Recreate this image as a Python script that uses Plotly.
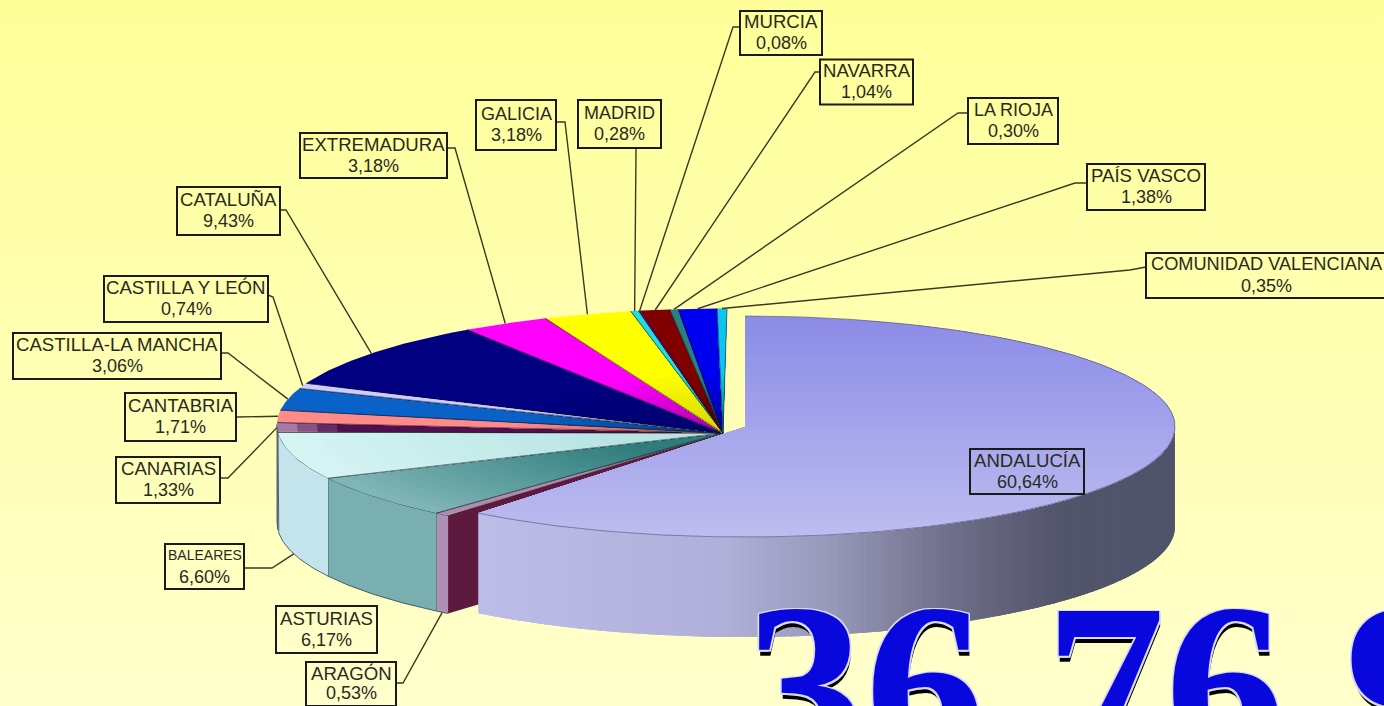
import numpy as np
import plotly.graph_objects as go

# ---------- data ----------
regions = ["ANDALUCÍA", "ARAGÓN", "ASTURIAS", "BALEARES", "CANARIAS", "CANTABRIA",
           "CASTILLA-LA MANCHA", "CASTILLA Y LEÓN", "CATALUÑA", "EXTREMADURA", "GALICIA",
           "MADRID", "MURCIA", "NAVARRA", "LA RIOJA", "PAÍS VASCO", "COMUNIDAD VALENCIANA"]
shares = [60.64, 0.53, 6.17, 6.60, 1.33, 1.71, 3.06, 0.74, 9.43, 3.18, 3.18,
          0.28, 0.08, 1.04, 0.30, 1.38, 0.35]
big_number = "36 76 9"

# ---------- styles ----------
top_rim = ["#9999EE", "#B08AB0", "#7FB5B5", "#D6F4F4", "#A878A8", "#FF8A8A", "#0A62C8", "#CCCCFF",
           "#000080", "#FF00FF", "#FFFF00", "#22DDDD", "#800080", "#800000", "#2A8080", "#0000F0", "#10C4F0"]
top_in = ["#9999EE", "#66193F", "#2E7C7C", "#B8E4E4", "#501050", "#C05A5A", "#004488", "#8888AA",
          "#000070", "#B000B0", "#D8D800", "#008888", "#500050", "#500000", "#005050", "#0000A0", "#008090"]
wall_col = {1: "#B08FB4", 2: "#7AAFB2", 3: "#C4E4EC", 4: "#A070A0"}
cut_col = "#5E1A3E"
bg_top, bg_bot = "#FFFF99", "#FFFFCC"

# label box: centre x, centre y, width, height, half line distance
boxes = {
    "MURCIA": (781, 33, 82, 44, 10.5), "NAVARRA": (866.5, 82, 93, 45, 10.5), "LA RIOJA": (1013, 121, 90, 46, 10.5),
    "PAÍS VASCO": (1146, 187, 118, 46, 10.5), "COMUNIDAD VALENCIANA": (1266.5, 275.5, 241, 45, 10.5),
    "MADRID": (619.5, 124, 83, 48, 10.5), "GALICIA": (516, 125, 80, 50, 10.5), "EXTREMADURA": (373.5, 155.5, 147, 45, 10.5),
    "CATALUÑA": (228.5, 211, 103, 48, 10.5), "CASTILLA Y LEÓN": (186, 299, 164, 46, 10.5),
    "CASTILLA-LA MANCHA": (117, 356, 208, 46, 10.5), "CANTABRIA": (180.5, 417, 111, 48, 10.5),
    "CANARIAS": (168, 480, 104, 46, 10.5), "BALEARES": (204.5, 566.5, 79, 45, 10.5), "ASTURIAS": (326.5, 629.5, 101, 47, 10.5),
    "ARAGÓN": (351, 684, 90, 44, 9.5), "ANDALUCÍA": (1027, 471.5, 114, 45, 10.5),
}
name_size = {"BALEARES": 14, "COMUNIDAD VALENCIANA": 18.2, "GALICIA": 18, "MADRID": 18, "LA RIOJA": 18}
# leader: start on the box edge, elbow; the end is computed from the share
leaders = {
    "MURCIA": [(740, 27), (733, 27)], "NAVARRA": [(820, 72), (815, 72)], "LA RIOJA": [(968, 113), (958, 113)],
    "PAÍS VASCO": [(1087, 183), (1075, 183)], "COMUNIDAD VALENCIANA": [(1146, 267), (1130, 270)],
    "MADRID": [(636, 148), (636, 150)], "GALICIA": [(556, 122), (565, 122)], "EXTREMADURA": [(447, 148), (455, 148)],
    "CATALUÑA": [(280, 210), (286, 210)], "CASTILLA Y LEÓN": [(268, 295), (273, 297)],
    "CASTILLA-LA MANCHA": [(221, 353), (228, 353)], "CANTABRIA": [(236, 417), (240, 417)],
    "CANARIAS": [(220, 478), (228, 478)], "BALEARES": [(244, 568), (272, 568)], "ARAGÓN": [(396, 683), (403, 683)],
}

# ---------- pie projection (pixels) ----------
REST = dict(cx=727, cy=424.5, rx=450, ry=116, ax=723, ay=433, depth=98)
MAIN = dict(cx=745, cy=426.5, rx=430, ry=110.5, ax=745, ay=427, depth=100)


def rim(g, deg):
    a = np.radians(deg)
    return g["cx"] + g["rx"] * np.sin(a), g["cy"] - g["ry"] * np.cos(a)


def rgb(h):
    return np.array([int(h[i:i + 2], 16) for i in (1, 3, 5)], float)


def mix(a, b, t):
    c = rgb(a) * (1 - t) + rgb(b) * t
    return "rgb(%d,%d,%d)" % tuple(c)


fig = go.Figure()


def poly(xs, ys, color, line=None, w=1):
    fig.add_trace(go.Scatter(x=list(xs), y=list(ys), mode="lines", fill="toself", fillcolor=color,
                             line=dict(color=line or "rgba(0,0,0,0)", width=w if line else 0),
                             hoverinfo="skip", showlegend=False))


def path(xs, ys, color="#3A3A20", w=1.4):
    fig.add_trace(go.Scatter(x=list(xs), y=list(ys), mode="lines", line=dict(color=color, width=w),
                             hoverinfo="skip", showlegend=False))


# background
fig.add_trace(go.Heatmap(x=[0, 1384], y=[0, 706], z=[[0, 0], [1, 1]], zsmooth="best", showscale=False,
                         zmin=0, zmax=1, colorscale=[[0, bg_top], [1, bg_bot]], hoverinfo="skip"))

cum = np.concatenate([[0], np.cumsum(shares)])
start = cum[:-1] * 3.6
end = cum[1:] * 3.6
mid = (start + end) / 2

# outer walls of the other slices (front half only)
for i in range(1, len(shares)):
    a0, a1 = max(start[i], 90), min(end[i], 270)
    if a1 <= a0:
        continue
    d = np.linspace(a0, a1, 40)
    x, y = rim(REST, d)
    poly(np.r_[x, x[::-1]], np.r_[y, y[::-1] + REST["depth"]], wall_col.get(i, "#888888"), "rgba(20,60,70,.75)", 1)

# radial cut face of the slice next to the big one
rx0, ry0 = rim(REST, start[1])
poly([rx0, REST["ax"], REST["ax"], rx0], [ry0, REST["ay"], REST["ay"] + REST["depth"], ry0 + REST["depth"]], cut_col)

# top faces of the other slices, shaded towards the apex
for i in range(1, len(shares)):
    d = np.linspace(start[i], end[i], 30)
    x, y = rim(REST, d)
    for t in np.linspace(1, 0.06, 22):
        fx = REST["ax"] + (x - REST["ax"]) * t
        fy = REST["ay"] + (y - REST["ay"]) * t
        if i in (2, 3):
            f = min(1.0, (1 - t) / 0.75)
        elif i == 4:
            f = min(1.0, (1 - t) / 0.12)
        else:
            f = max(0.0, (0.5 - t) / 0.44)
        poly(np.r_[REST["ax"], fx], np.r_[REST["ay"], fy], mix(top_rim[i], top_in[i], f))
    path(np.r_[x[0], REST["ax"], x[-1]], np.r_[y[0], REST["ay"], y[-1]], "rgba(20,20,30,.55)", 1)

# wall of the big slice, dark to the right
stops_x = [470, 720, 820, 950, 1060, 1180]
stops_c = ["#BDBDEA", "#B0B0DA", "#9A9ABC", "#6E6E88", "#52546A", "#50546C"]
ang = np.linspace(90, end[0], 130)
for k in range(len(ang) - 1):
    d = np.linspace(ang[k], min(ang[k + 1] + 1.5, end[0]), 5)
    x, y = rim(MAIN, d)
    xm = x.mean()
    j = min(np.searchsorted(stops_x, xm), len(stops_x) - 1)
    j = max(j, 1)
    t = (xm - stops_x[j - 1]) / (stops_x[j] - stops_x[j - 1])
    poly(np.r_[x, x[::-1]], np.r_[y, y[::-1] + MAIN["depth"]], mix(stops_c[j - 1], stops_c[j], t))

# top face of the big slice: vertical gradient painted by half-plane clipping
d = np.linspace(0, end[0], 240)
sx, sy = rim(MAIN, d)
px = np.r_[MAIN["ax"], sx]
py = np.r_[MAIN["ay"], sy]


def clip_below(xs, ys, y0):
    ox, oy = [], []
    n = len(xs)
    for k in range(n):
        x1, y1, x2, y2 = xs[k], ys[k], xs[(k + 1) % n], ys[(k + 1) % n]
        if y1 >= y0:
            ox.append(x1)
            oy.append(y1)
        if (y1 >= y0) != (y2 >= y0):
            u = (y0 - y1) / (y2 - y1)
            ox.append(x1 + u * (x2 - x1))
            oy.append(y0)
    return ox, oy


ymin, ymax = py.min(), py.max()
for y0 in np.linspace(ymin, ymax, 45):
    cx_, cy_ = clip_below(px, py, y0)
    if len(cx_) > 2:
        poly(cx_, cy_, mix("#8C8CE8", "#BEBEF0", (y0 - ymin) / (ymax - ymin)))
path(sx, sy, "rgba(80,80,110,.6)", 1)

# leader lines
front = {"BALEARES", "ARAGÓN"}
for name, pts in leaders.items():
    i = regions.index(name)
    ex, ey = rim(REST, mid[i])
    if name in front:
        ey += REST["depth"]
    path([p[0] for p in pts] + [ex], [p[1] for p in pts] + [ey])

# labels
anns, shapes = [], []
for name, share in zip(regions, shares):
    bx, by, bw, bh, half = boxes[name]
    shapes.append(dict(type="rect", xref="x", yref="y", x0=bx - bw / 2, x1=bx + bw / 2, y0=by - bh / 2, y1=by + bh / 2,
                       line=dict(color="#1A1A1A", width=2), layer="above"))
    for text, yy, size in [(name, by - half - 1, name_size.get(name, 18.6)),
                           (f"{share:.2f}%".replace(".", ","), by + half - 0.5, 18)]:
        anns.append(dict(x=bx, y=yy, xref="x", yref="y", text=text, showarrow=False,
                         xanchor="center", yanchor="middle",
                         font=dict(family="Liberation Sans", size=size, color="#2A2A1C")))

# big headline, cut by the lower edge of the picture
for dx, dy, col, sh in [(1, 6, "#000000", "none"),
                        (0, 0, "#0808DC", "1.5px 1.5px 0 #DADAF6,-1.5px 1.5px 0 #DADAF6,1.5px -1.5px 0 #DADAF6,-1.5px -1.5px 0 #DADAF6")]:
    anns.append(dict(x=743 + dx, y=552 + dy, xref="x", yref="y", text=big_number, showarrow=False,
                     xanchor="left", yanchor="top", align="left",
                     font=dict(family="Liberation Serif", size=240, color=col, weight="bold", shadow=sh)))

fig.update_layout(width=1384, height=706, margin=dict(l=0, r=0, t=0, b=0), autosize=False,
                  paper_bgcolor=bg_bot, plot_bgcolor=bg_bot, showlegend=False, annotations=anns, shapes=shapes,
                  xaxis=dict(range=[0, 1384], visible=False, fixedrange=True),
                  yaxis=dict(range=[706, 0], visible=False, fixedrange=True))
fig.write_html("out.html", config=dict(displayModeBar=False),
               post_script="document.body.style.margin='0';document.body.style.overflow='hidden';")
